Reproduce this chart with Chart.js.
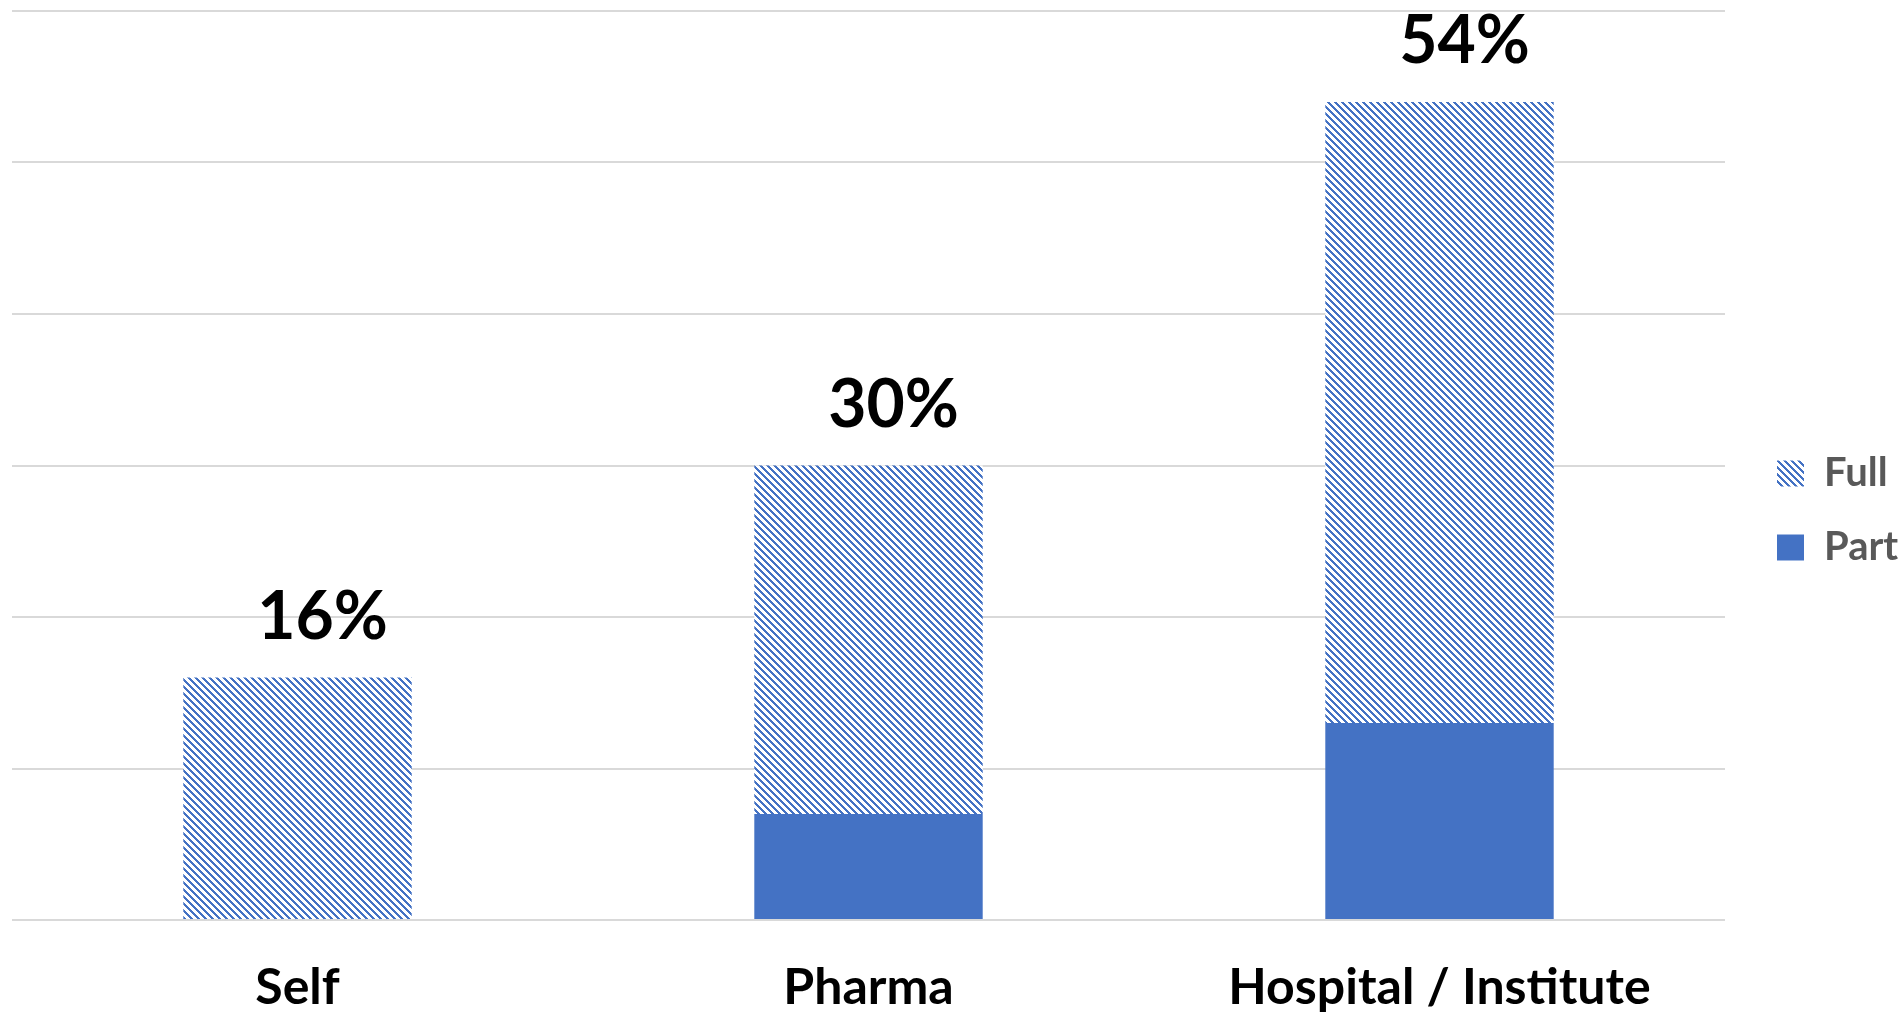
<!DOCTYPE html>
<html>
<head>
<meta charset="utf-8">
<script src="https://cdn.jsdelivr.net/npm/chart.js@4"></script>
<style>
  html, body { margin: 0; padding: 0; background: #ffffff; }
  #wrap { width: 1901px; height: 1018px; }
</style>
</head>
<body>
<div id="wrap"><canvas id="myChart" width="1901" height="1018"></canvas></div>
<script>
// chart values
const categories = ["Self", "Pharma", "Hospital / Institute"];
const partValues = [0, 7, 13];
const fullValues = [16, 23, 41];
const yTicks = [0, 10, 20, 30, 40, 50, 60];

const blue = "#4472C4";

// light downward diagonal hatch, like the office fill
function makeHatch() {
    const size = 7;
    const tile = document.createElement("canvas");
    tile.width = size;
    tile.height = size;
    const tctx = tile.getContext("2d");
    tctx.fillStyle = "#ffffff";
    tctx.fillRect(0, 0, size, size);
    tctx.fillStyle = blue;
    for (let y = 0; y < size; y++) {
        for (let x = 0; x < size; x++) {
            if (((x - y) % size + size) % size < 3) tctx.fillRect(x, y, 1, 1);
        }
    }
    return tctx.createPattern(tile, "repeat");
}

// totals on top of each stack
const totalLabels = {
    id: "totalLabels",
    afterDatasetsDraw(chart) {
        const ctx = chart.ctx;
        const meta = chart.getDatasetMeta(chart.data.datasets.length - 1);
        ctx.save();
        ctx.font = "bold 66px Lato, 'Open Sans', sans-serif";
        ctx.fillStyle = "#000000";
        ctx.textAlign = "center";
        ctx.textBaseline = "middle";
        meta.data.forEach((bar, i) => {
            const total = partValues[i] + fullValues[i];
            ctx.fillText(total + "%", bar.x + 25, bar.y - 60);
        });
        ctx.restore();
    }
};

// legend box gets a fixed width, then is nudged off the plot edge
const legendFix = {
    id: "legendFix",
    beforeUpdate(chart) {
        const lg = chart.legend;
        if (lg && !lg._fixed) {
            const fit = lg.fit;
            lg.fit = function () { fit.call(this); this.width = 176; };
            lg._fixed = true;
        }
    },
    afterLayout(chart) {
        const lg = chart.legend;
        if (lg) {
            lg.left += 18;
            lg.right += 18;
            lg.top -= 23;
            lg.bottom -= 23;
        }
    }
};

const hatch = makeHatch();
const ctx = document.getElementById("myChart");
const myChart = new Chart(ctx, {
    type: "bar",
    data: {
        labels: categories,
        datasets: [{
            label: "Part",
            data: partValues,
            backgroundColor: blue,
            borderWidth: 0
        }, {
            label: "Full",
            data: fullValues,
            backgroundColor: hatch,
            borderWidth: 0
        }]
    },
    options: {
        responsive: false,
        animation: false,
        layout: { padding: { top: 11, left: 12, right: 0, bottom: -38 } },
        datasets: { bar: { categoryPercentage: 1, barPercentage: 0.4 } },
        scales: {
            x: {
                stacked: true,
                grid: { display: false, drawTicks: false },
                border: { display: false },
                ticks: {
                    color: "#000000",
                    padding: 38,
                    font: { family: "Lato, 'Open Sans', sans-serif", size: 50, weight: "bold" }
                }
            },
            y: {
                stacked: true,
                min: yTicks[0],
                max: yTicks[yTicks.length - 1],
                ticks: { display: false, stepSize: yTicks[1] - yTicks[0] },
                grid: { color: "#d9d9d9", lineWidth: 2, drawTicks: false },
                border: { display: false }
            }
        },
        plugins: {
            tooltip: { enabled: false },
            legend: {
                position: "right",
                reverse: true,
                labels: {
                    boxWidth: 27,
                    boxHeight: 26,
                    padding: 34,
                    color: "#595959",
                    font: { family: "Lato, 'Open Sans', sans-serif", size: 40, weight: "bold" }
                }
            }
        }
    },
    plugins: [totalLabels, legendFix]
});
</script>
</body>
</html>
